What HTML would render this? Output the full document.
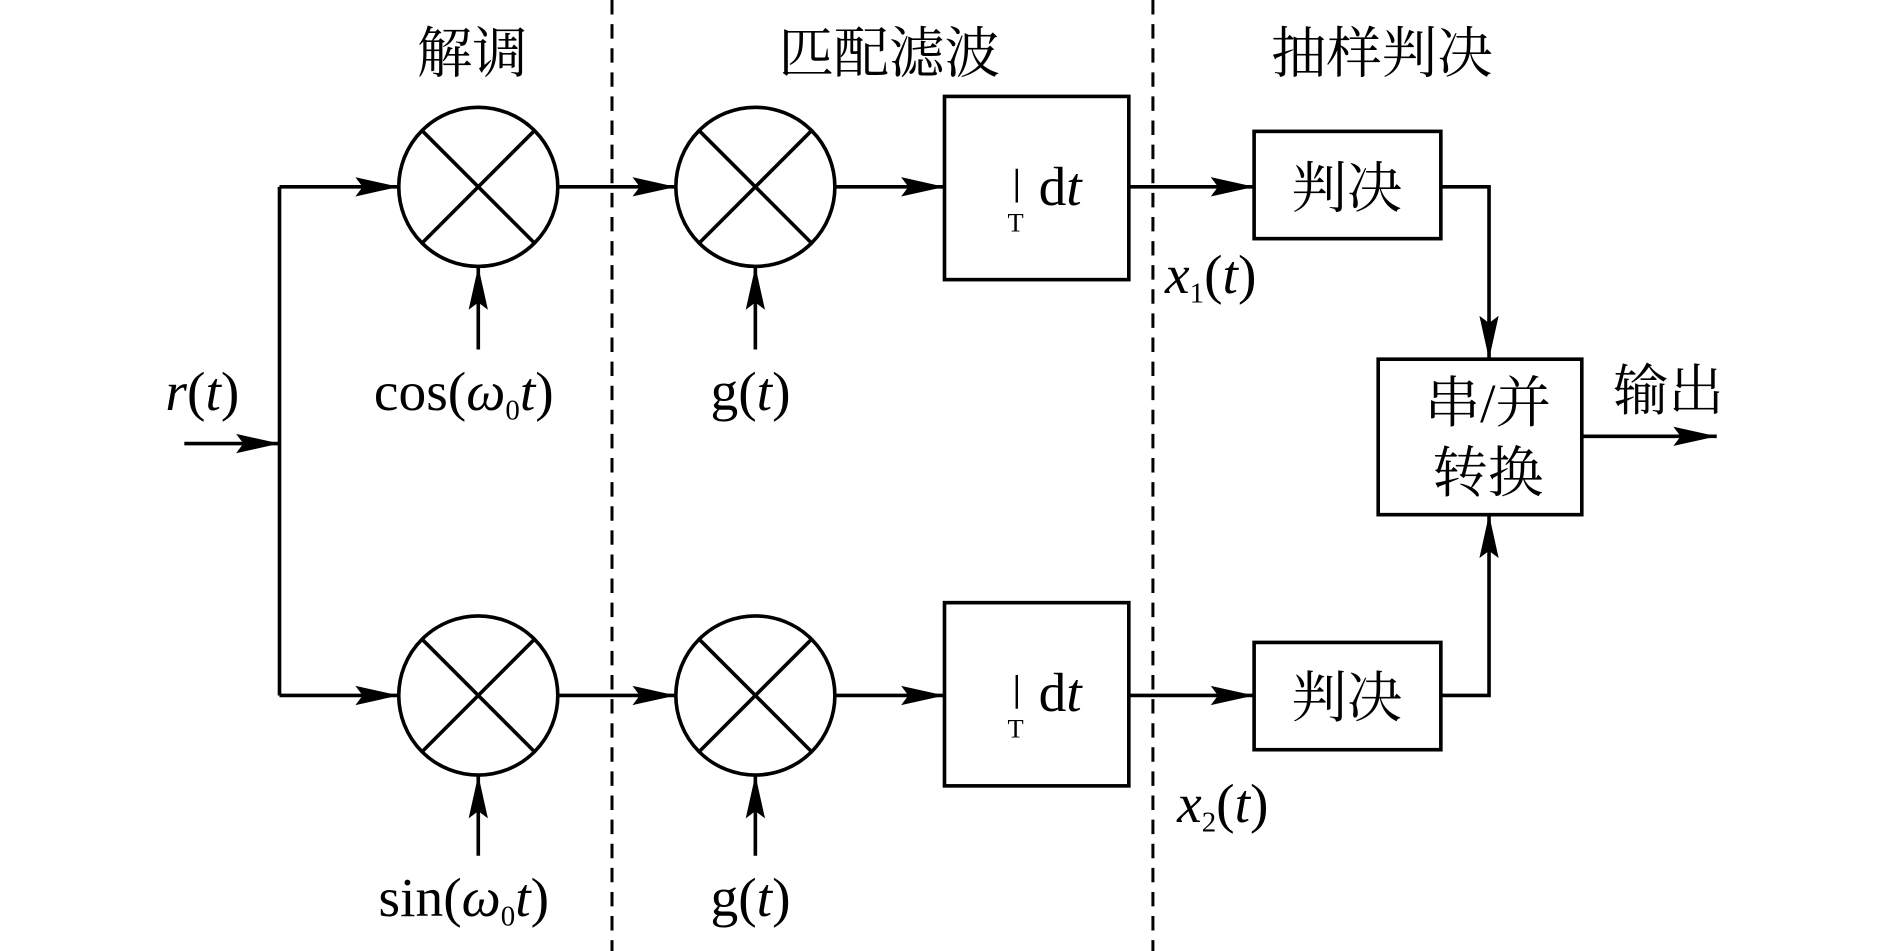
<!DOCTYPE html>
<html><head><meta charset="utf-8"><style>html,body{margin:0;padding:0;background:#fff}svg{display:block}</style></head><body>
<svg width="1889" height="951" viewBox="0 0 1568 789" preserveAspectRatio="none" xmlns="http://www.w3.org/2000/svg">
<defs><marker id="a" viewBox="0 0 36 18" refX="36" refY="9" markerWidth="36" markerHeight="18" markerUnits="userSpaceOnUse" orient="auto"><path d="M0,1 L36,9 L0,17 L6,9 Z" fill="#000"/></marker></defs>
<g stroke="#000" stroke-width="3" fill="none">
<line x1="508" y1="0" x2="508" y2="789" stroke-dasharray="12,8" stroke-width="2.5"/>
<line x1="957" y1="0" x2="957" y2="789" stroke-dasharray="12,8" stroke-width="2.5"/>
<line x1="153" y1="368" x2="232" y2="368" marker-end="url(#a)"/>
<polyline points="232,155 232,577"/>
<line x1="232" y1="155" x2="331" y2="155" marker-end="url(#a)"/>
<line x1="232" y1="577" x2="331" y2="577" marker-end="url(#a)"/>
<circle cx="397" cy="155" r="66"/><circle cx="627" cy="155" r="66"/>
<circle cx="397" cy="577" r="66"/><circle cx="627" cy="577" r="66"/>
<path d="M350,108 L444,202 M444,108 L350,202 M580,108 L674,202 M674,108 L580,202 M350,530 L444,624 M444,530 L350,624 M580,530 L674,624 M674,530 L580,624"/>
<line x1="463" y1="155" x2="561" y2="155" marker-end="url(#a)"/>
<line x1="463" y1="577" x2="561" y2="577" marker-end="url(#a)"/>
<line x1="693" y1="155" x2="784" y2="155" marker-end="url(#a)"/>
<line x1="693" y1="577" x2="784" y2="577" marker-end="url(#a)"/>
<line x1="397" y1="290" x2="397" y2="221" marker-end="url(#a)"/>
<line x1="627" y1="290" x2="627" y2="221" marker-end="url(#a)"/>
<line x1="397" y1="710" x2="397" y2="643" marker-end="url(#a)"/>
<line x1="627" y1="710" x2="627" y2="643" marker-end="url(#a)"/>
<rect x="784" y="80" width="153" height="152"/><rect x="784" y="500" width="153" height="152"/>
<line x1="937" y1="155" x2="1041" y2="155" marker-end="url(#a)"/>
<line x1="937" y1="577" x2="1041" y2="577" marker-end="url(#a)"/>
<rect x="1041" y="109" width="155" height="89"/><rect x="1041" y="533" width="155" height="89"/>
<rect x="1144" y="298" width="169" height="129"/>
<polyline points="1196,155 1236,155 1236,298" marker-end="url(#a)"/>
<polyline points="1196,577 1236,577 1236,427" marker-end="url(#a)"/>
<line x1="1313" y1="362" x2="1425" y2="362" marker-end="url(#a)"/>
<line x1="844" y1="140" x2="844" y2="168" stroke-width="2"/>
<line x1="844" y1="560" x2="844" y2="588" stroke-width="2"/>
</g>
<g font-family="Liberation Serif, 'Noto Serif CJK SC', serif" font-size="46" fill="#000" text-anchor="middle">
<text x="392" y="60">解调</text>
<text x="738" y="60">匹配滤波</text>
<text x="1147" y="60">抽样判决</text>
<text x="1118" y="172">判决</text>
<text x="1118" y="595">判决</text>
<text x="1235" y="350">串/并</text>
<text x="1235" y="408">转换</text>
<text x="1385" y="340">输出</text>
<text x="168" y="340"><tspan font-style="italic">r</tspan>(<tspan font-style="italic">t</tspan>)</text>
<text x="385" y="340">cos(<tspan font-style="italic">ω</tspan><tspan font-size="24" dy="8">0</tspan><tspan font-style="italic" dy="-8">t</tspan>)</text>
<text x="385" y="760">sin(<tspan font-style="italic">ω</tspan><tspan font-size="24" dy="8">0</tspan><tspan font-style="italic" dy="-8">t</tspan>)</text>
<text x="623" y="340">g(<tspan font-style="italic">t</tspan>)</text>
<text x="623" y="760">g(<tspan font-style="italic">t</tspan>)</text>
<text x="1005" y="243"><tspan font-style="italic">x</tspan><tspan font-size="24" dy="8">1</tspan><tspan dy="-8">(</tspan><tspan font-style="italic">t</tspan>)</text>
<text x="1015" y="682"><tspan font-style="italic">x</tspan><tspan font-size="24" dy="8">2</tspan><tspan dy="-8">(</tspan><tspan font-style="italic">t</tspan>)</text>
<text x="880" y="170">d<tspan font-style="italic">t</tspan></text>
<text x="880" y="590">d<tspan font-style="italic">t</tspan></text>
<text x="843" y="192" font-size="22">T</text>
<text x="843" y="612" font-size="22">T</text>
</g>
</svg>
</body></html>
